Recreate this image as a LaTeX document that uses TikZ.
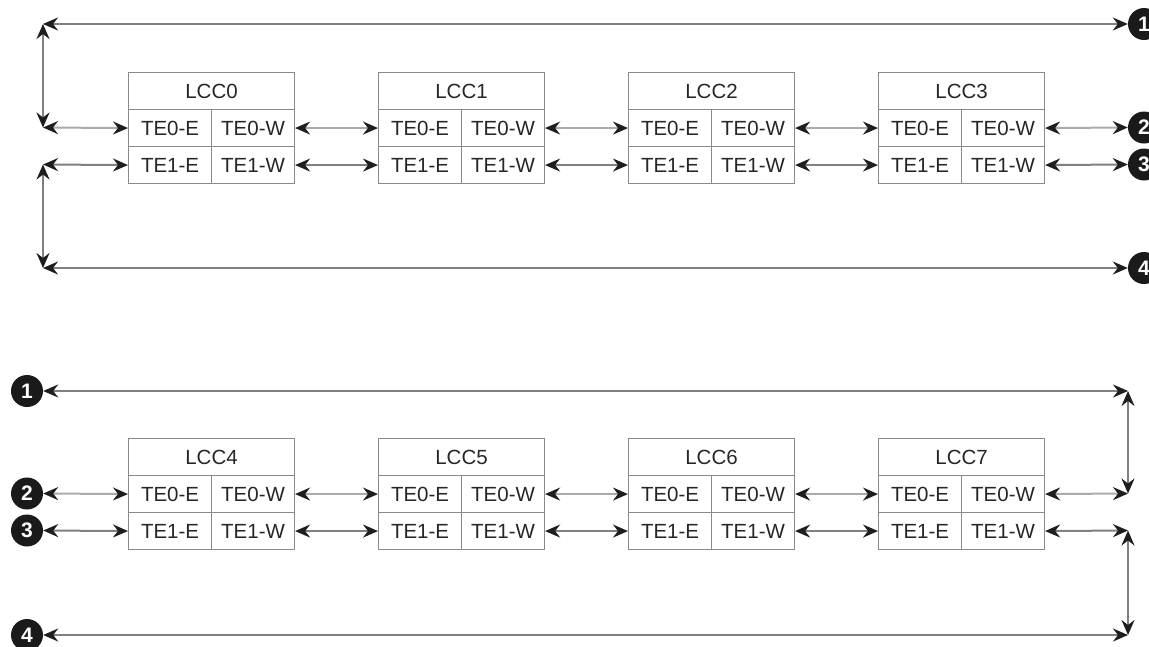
\documentclass[tikz,border=0pt]{standalone}
\usepackage{fontspec}
\setmainfont{Liberation Sans}
\usetikzlibrary{arrows.meta}
\definecolor{linegray}{HTML}{808080}
\definecolor{lightgray}{HTML}{AAAAAA}
\definecolor{boxgray}{HTML}{8A8A8A}
\definecolor{tipdark}{HTML}{1E1E1E}
\definecolor{numfill}{HTML}{1A1A1A}
\begin{document}
\begin{tikzpicture}[x=1pt,y=-1pt,
  cell/.style={draw=boxgray, line width=1.1pt, minimum width=83pt, minimum height=37pt, inner sep=0pt, font=\fontsize{20.5}{22}\selectfont, text=black!85, anchor=north west},
  head/.style={cell, minimum width=166pt},
  tipA/.tip={Stealth[length=15pt,width=13pt,inset=5pt,color=tipdark]},
  conn/.style={draw=linegray, line width=2pt, {tipA}-{tipA}},
  connlight/.style={conn, draw=lightgray},
  num/.style={circle, fill=numfill, text=white, font=\fontsize{21}{22}\selectfont\bfseries, minimum size=32pt, inner sep=0pt}]
\useasboundingbox (0,0) rectangle (1149,646);
% boxes
\foreach \i/\n in {0/0,1/1,2/2,3/3} {
  \pgfmathsetmacro\xx{128+250*\i}
  \node[head] (L\n) at (\xx,72) {LCC\n};
  \node[cell] (L\n E0) at (\xx,109) {TE0-E};
  \node[cell] (L\n W0) at (\xx+83,109) {TE0-W};
  \node[cell] (L\n E1) at (\xx,146) {TE1-E};
  \node[cell] (L\n W1) at (\xx+83,146) {TE1-W};
}
\foreach \i/\n in {0/4,1/5,2/6,3/7} {
  \pgfmathsetmacro\xx{128+250*\i}
  \node[head] (L\n) at (\xx,438) {LCC\n};
  \node[cell] (L\n E0) at (\xx,475) {TE0-E};
  \node[cell] (L\n W0) at (\xx+83,475) {TE0-W};
  \node[cell] (L\n E1) at (\xx,512) {TE1-E};
  \node[cell] (L\n W1) at (\xx+83,512) {TE1-W};
}
% connections between boxes
\foreach \a/\b in {0/1,1/2,2/3,4/5,5/6,6/7} {
  \draw[connlight] (L\a W0.east) -- (L\b E0.west);
  \draw[conn] (L\a W1.east) -- (L\b E1.west);
}
% top section
\node[num] (T1) at (1144,24) {1};
\node[num] (T2) at (1144,127.5) {2};
\node[num] (T3) at (1144,164.5) {3};
\node[num] (T4) at (1144,268) {4};
\coordinate (A1) at (43,24);
\coordinate (A2) at (43,127.5);
\coordinate (A3) at (43,164.5);
\coordinate (A4) at (43,268);
\draw[conn] (A1) -- (T1.west);
\draw[conn] (A1) -- (A2);
\draw[connlight] (A2) -- (L0E0.west);
\draw[conn] (A3) -- (L0E1.west);
\draw[conn] (A3) -- (A4);
\draw[conn] (A4) -- (T4.west);
\draw[connlight] (L3W0.east) -- (T2.west);
\draw[conn] (L3W1.east) -- (T3.west);
% bottom section
\node[num] (S1) at (27,391) {1};
\node[num] (S2) at (27,493.5) {2};
\node[num] (S3) at (27,530.5) {3};
\node[num] (S4) at (27,635) {4};
\coordinate (B1) at (1128,391);
\coordinate (B2) at (1128,493.5);
\coordinate (B3) at (1128,530.5);
\coordinate (B4) at (1128,635);
\draw[conn] (S1.east) -- (B1);
\draw[conn] (B1) -- (B2);
\draw[connlight] (L7W0.east) -- (B2);
\draw[conn] (L7W1.east) -- (B3);
\draw[conn] (B3) -- (B4);
\draw[conn] (S4.east) -- (B4);
\draw[connlight] (S2.east) -- (L4E0.west);
\draw[conn] (S3.east) -- (L4E1.west);
\end{tikzpicture}
\end{document}
